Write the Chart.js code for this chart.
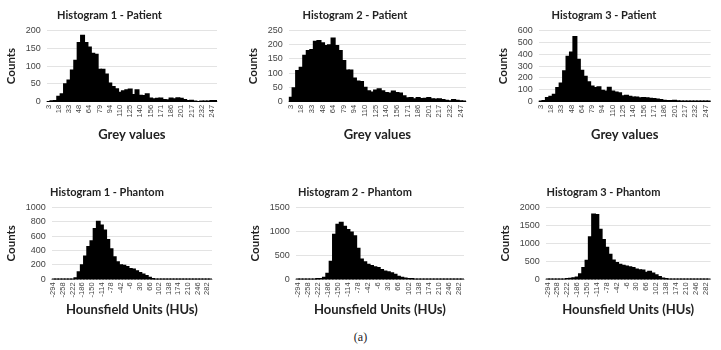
<!DOCTYPE html>
<html>
<head>
<meta charset="utf-8">
<script src="https://cdn.jsdelivr.net/npm/chart.js@4.4.1/dist/chart.umd.min.js"></script>
<style>
  body { margin: 0; background: #fff; width: 721px; height: 350px; position: relative; overflow: hidden; }
  .panel { position: absolute; }
  #caption { position: absolute; left: 0; width: 721px; top: 330px; text-align: center;
    font-family: "Liberation Serif", serif; font-size: 12px; color: #222; }
</style>
</head>
<body>
<div class="panel" style="left:0;top:0"><canvas id="p1" width="238" height="143"></canvas></div>
<div class="panel" style="left:240px;top:0"><canvas id="p2" width="238" height="143"></canvas></div>
<div class="panel" style="left:480px;top:0"><canvas id="p3" width="241" height="143"></canvas></div>
<div class="panel" style="left:0;top:158px"><canvas id="h1" width="238" height="160"></canvas></div>
<div class="panel" style="left:240px;top:158px"><canvas id="h2" width="238" height="160"></canvas></div>
<div class="panel" style="left:480px;top:158px"><canvas id="h3" width="241" height="160"></canvas></div>
<div id="caption">(a)</div>
<script>
// bin centres
const greyBins = [3, 8, 13, 18, 23, 28, 33, 38, 43, 48, 54, 59, 64, 69, 74, 79, 84, 89, 94, 99,
  105, 110, 115, 120, 125, 130, 135, 140, 145, 150, 156, 161, 166, 171, 176, 181, 186, 191, 196, 201,
  207, 212, 217, 222, 227, 232, 237, 242, 247, 252];
const huBins = [-294, -282, -270, -258, -246, -234, -222, -210, -198, -186, -174, -162, -150, -138, -126,
  -114, -102, -90, -78, -66, -54, -42, -30, -18, -6, 6, 18, 30, 42, 54, 66, 78, 90, 102, 114, 126, 138,
  150, 162, 174, 186, 198, 210, 222, 234, 246, 258, 270, 282, 294];

// counts per bin
const patient1 = [0, 2, 3, 15, 22, 50, 60, 88, 115, 165, 185, 165, 152, 135, 132, 90, 90, 77, 52, 42,
  36, 26, 30, 33, 35, 20, 33, 18, 17, 22, 10, 8, 9, 10, 6, 5, 10, 8, 11, 9,
  6, 3, 4, 1, 0, 1, 1, 1, 3, 3];
const patient2 = [15, 48, 108, 120, 162, 178, 182, 210, 213, 205, 196, 198, 222, 196, 178, 143, 110, 110, 82, 72,
  70, 50, 38, 33, 40, 45, 38, 32, 30, 37, 32, 30, 20, 13, 14, 10, 14, 11, 12, 14,
  10, 9, 10, 7, 5, 3, 7, 5, 3, 2];
const patient3 = [3, 10, 35, 45, 62, 118, 155, 258, 380, 415, 545, 355, 262, 213, 165, 130, 118, 125, 95, 88,
  120, 88, 80, 75, 48, 52, 45, 38, 38, 33, 35, 33, 28, 25, 22, 18, 12, 10, 10, 12,
  6, 3, 5, 4, 4, 5, 4, 3, 5, 3];
const phantom1 = [0, 0, 0, 0, 0, 0, 0, 20, 100, 200, 320, 450, 530, 700, 800, 750, 680, 550, 420, 310,
  240, 200, 190, 175, 145, 140, 115, 90, 70, 50, 25, 3, 0, 0, 0, 0, 0, 0, 0, 0,
  0, 0, 0, 0, 0, 0, 0, 0, 0, 0];
const phantom2 = [0, 0, 0, 0, 0, 0, 3, 10, 40, 120, 370, 930, 1140, 1180, 1100, 1030, 980, 900, 640, 420,
  360, 310, 280, 255, 240, 200, 170, 155, 130, 100, 60, 40, 25, 10, 3, 0, 0, 0, 0, 0,
  0, 0, 0, 0, 0, 0, 0, 0, 0, 0];
const phantom3 = [0, 0, 0, 0, 0, 0, 10, 20, 40, 60, 150, 320, 520, 1170, 1800, 1790, 1380, 1100, 880, 690,
  530, 460, 410, 380, 360, 340, 320, 280, 260, 250, 190, 220, 170, 120, 70, 30, 5, 0, 0, 0,
  0, 0, 0, 0, 0, 0, 0, 0, 0, 0];

const FONT = 'Lato, "Open Sans", sans-serif';
const TICK_FONT = '"Liberation Sans", sans-serif';

function histo(id, title, xTitle, labels, counts, yMax, yStep, pad, titlePad, xTitlePad) {
  new Chart(document.getElementById(id), {
    type: "bar",
    data: {
      labels: labels,
      datasets: [{
        data: counts,
        backgroundColor: "#000",
        borderWidth: 0,
        barPercentage: 1,
        categoryPercentage: 1,
        inflateAmount: 0.8,
      }],
    },
    options: {
      responsive: false,
      animation: false,
      layout: { padding: pad },
      plugins: {
        legend: { display: false },
        tooltip: { enabled: false },
        title: {
          display: true,
          text: title,
          color: "#222",
          font: { family: FONT, size: 11, weight: "bold" },
          padding: titlePad,
        },
      },
      scales: {
        x: {
          grid: { display: false, drawTicks: false },
          border: { color: "#d0d0d0" },
          ticks: {
            autoSkip: false,
            maxRotation: 90,
            minRotation: 90,
            padding: 3,
            color: "#444",
            font: { family: TICK_FONT, size: 7.5 },
            callback: function (v, i) {
              return i % 3 === 0 ? labels[i] : "";
            },
          },
          title: {
            display: true,
            text: xTitle,
            color: "#222",
            font: { family: FONT, size: 13, weight: "bold" },
            padding: { top: xTitlePad, bottom: 0 },
          },
        },
        y: {
          min: 0,
          max: yMax,
          grid: { color: "#e3e3e3", drawTicks: false },
          border: { display: false },
          ticks: {
            stepSize: yStep,
            autoSkip: false,
            color: "#444",
            padding: 6,
            font: { family: TICK_FONT, size: 9 },
            callback: (v) => String(v),
          },
          title: {
            display: true,
            text: "Counts",
            color: "#222",
            font: { family: FONT, size: 11.5, weight: "bold" },
            padding: 2,
          },
        },
      },
    },
  });
}

const topTitle = { top: 9, bottom: 8 };
const lowTitle = { top: 10, bottom: 8 };
histo("p1", "Histogram 1 - Patient", "Grey values", greyBins, patient1, 200, 50, { left: 2, right: 21, bottom: 0 }, topTitle, 7);
histo("p2", "Histogram 2 - Patient", "Grey values", greyBins, patient2, 250, 50, { left: 4, right: 12, bottom: 0 }, topTitle, 7);
histo("p3", "Histogram 3 - Patient", "Grey values", greyBins, patient3, 600, 100, { left: 14, right: 7, bottom: 0 }, topTitle, 7);
histo("h1", "Histogram 1 - Phantom", "Hounsfield Units (HUs)", huBins, phantom1, 1000, 200, { left: 2, right: 26, top: 18, bottom: 0 }, lowTitle, 2);
histo("h2", "Histogram 2 - Phantom", "Hounsfield Units (HUs)", huBins, phantom2, 1500, 500, { left: 6, right: 14, top: 18, bottom: 0 }, lowTitle, 2);
histo("h3", "Histogram 3 - Phantom", "Hounsfield Units (HUs)", huBins, phantom3, 2000, 500, { left: 16, right: 10, top: 18, bottom: 0 }, lowTitle, 2);
</script>
</body>
</html>
